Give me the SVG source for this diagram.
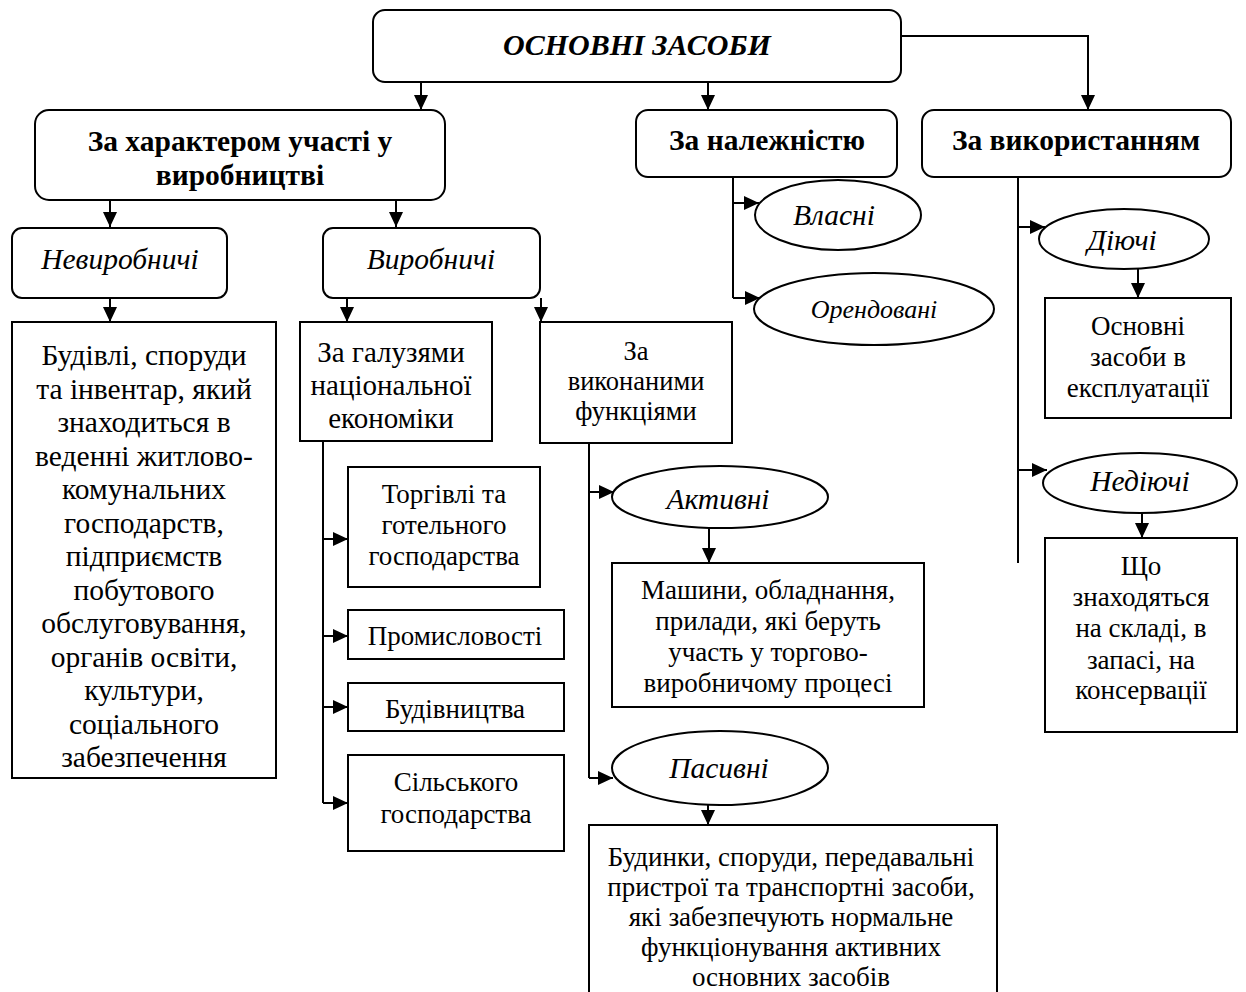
<svg xmlns="http://www.w3.org/2000/svg" width="1246" height="992" viewBox="0 0 1246 992">
<defs>
<marker id="ah" markerUnits="userSpaceOnUse" markerWidth="16" markerHeight="16" viewBox="0 0 16 16" refX="15" refY="8" orient="auto">
<path d="M0,1 L15,8 L0,15 Z" fill="#000"/>
</marker>
<style>
.b{fill:#fff;stroke:#000;stroke-width:2}
.c{fill:none;stroke:#000;stroke-width:2}
.a{marker-end:url(#ah)}
text{font-family:"Liberation Serif","Times New Roman",serif;fill:#000;text-anchor:middle;dominant-baseline:central}
.t{font-size:27px}
.tg{font-size:29px}
.tl{font-size:29.5px}
.s{font-size:26.5px}
.bd{font-weight:bold;font-size:29.5px}
.it{font-style:italic;font-size:29.5px}
.io{font-style:italic;font-size:26px}
.ti{font-style:italic;font-weight:bold;font-size:30px}
</style>
</defs>
<rect width="1246" height="992" fill="#fff"/>
<g id="connectors">
<path class="c a" d="M421,82 V110"/>
<path class="c a" d="M708,82 V110"/>
<path class="c a" d="M901,36 H1088 V110"/>
<path class="c a" d="M110,200 V227"/>
<path class="c a" d="M396,200 V227"/>
<path class="c a" d="M110,298 V322"/>
<path class="c a" d="M347,298 V322"/>
<path class="c a" d="M541,298 V322"/>
<path class="c" d="M323,441 V803"/>
<path class="c a" d="M323,539 H348"/>
<path class="c a" d="M323,636 H348"/>
<path class="c a" d="M323,707 H348"/>
<path class="c a" d="M323,803 H348"/>
<path class="c" d="M589,443 V778"/>
<path class="c a" d="M589,492 H614"/>
<path class="c a" d="M589,778 H613"/>
<path class="c a" d="M709,528 V563"/>
<path class="c a" d="M708,805 V825"/>
<path class="c" d="M733,177 V298"/>
<path class="c a" d="M733,203 H759"/>
<path class="c a" d="M733,298 H760"/>
<path class="c" d="M1018,177 V563"/>
<path class="c a" d="M1018,227 H1045"/>
<path class="c a" d="M1018,470 H1047"/>
<path class="c a" d="M1138,269 V298"/>
<path class="c a" d="M1142,513 V538"/>
</g>
<g id="n-root"><rect class="b" x="373" y="10" width="528" height="72" rx="12"/><text class="ti" x="637" y="44">ОСНОВНІ ЗАСОБИ</text></g>
<g id="n-uchast"><rect class="b" x="35" y="110" width="410" height="90" rx="14"/><text class="bd" x="240" y="141">За характером участі у</text><text class="bd" x="240" y="175">виробництві</text></g>
<g id="n-nalezh"><rect class="b" x="636" y="110" width="261" height="67" rx="12"/><text class="bd" x="767" y="140">За належністю</text></g>
<g id="n-vykor"><rect class="b" x="922" y="110" width="309" height="67" rx="12"/><text class="bd" x="1076" y="140">За використанням</text></g>
<g id="n-nevyr"><rect class="b" x="12" y="228" width="215" height="70" rx="10"/><text class="it" x="120" y="259">Невиробничі</text></g>
<g id="n-vyr"><rect class="b" x="323" y="228" width="217" height="70" rx="10"/><text class="it" x="431" y="259">Виробничі</text></g>
<g id="n-budivli"><rect class="b" x="12" y="322" width="264" height="456"/>
<text class="tl" x="144" y="355">Будівлі, споруди</text>
<text class="tl" x="144" y="388.5">та інвентар, який</text>
<text class="tl" x="144" y="422">знаходиться в</text>
<text class="tl" x="144" y="455.5">веденні житлово-</text>
<text class="tl" x="144" y="489">комунальних</text>
<text class="tl" x="144" y="522.5">господарств,</text>
<text class="tl" x="144" y="556">підприємств</text>
<text class="tl" x="144" y="589.5">побутового</text>
<text class="tl" x="144" y="623">обслуговування,</text>
<text class="tl" x="144" y="656.5">органів освіти,</text>
<text class="tl" x="144" y="690">культури,</text>
<text class="tl" x="144" y="723.5">соціального</text>
<text class="tl" x="144" y="757">забезпечення</text>
</g>
<g id="n-galuz"><rect class="b" x="300" y="322" width="192" height="119"/><text class="tg" x="391" y="352">За галузями</text><text class="tg" x="391" y="385">національної</text><text class="tg" x="391" y="418">економіки</text></g>
<g id="n-funk"><rect class="b" x="540" y="322" width="192" height="121"/><text class="s" x="636" y="351">За</text><text class="s" x="636" y="381">виконаними</text><text class="s" x="636" y="411">функціями</text></g>
<g id="n-torg"><rect class="b" x="348" y="467" width="192" height="120"/><text class="t" x="444" y="494">Торгівлі та</text><text class="t" x="444" y="525">готельного</text><text class="t" x="444" y="556">господарства</text></g>
<g id="n-prom"><rect class="b" x="348" y="610" width="216" height="49"/><text class="t" x="455" y="636">Промисловості</text></g>
<g id="n-budivn"><rect class="b" x="348" y="683" width="216" height="48"/><text class="t" x="455" y="709">Будівництва</text></g>
<g id="n-silsk"><rect class="b" x="348" y="755" width="216" height="96"/><text class="t" x="456" y="782">Сільського</text><text class="t" x="456" y="814">господарства</text></g>
<g id="n-aktyv"><ellipse class="b" cx="720" cy="497" rx="108" ry="31"/><text class="it" x="718" y="499">Активні</text></g>
<g id="n-mashyny"><rect class="b" x="612" y="563" width="312" height="144"/><text class="t" x="768" y="590">Машини, обладнання,</text><text class="t" x="768" y="621">прилади, які беруть</text><text class="t" x="768" y="652">участь у торгово-</text><text class="t" x="768" y="683">виробничому процесі</text></g>
<g id="n-pasyv"><ellipse class="b" cx="720" cy="768" rx="108" ry="37"/><text class="it" x="719" y="768">Пасивні</text></g>
<g id="n-budynky"><rect class="b" x="589" y="825" width="408" height="180"/><text class="t" x="791" y="857">Будинки, споруди, передавальні</text><text class="t" x="791" y="887">пристрої та транспортні засоби,</text><text class="t" x="791" y="917">які забезпечують нормальне</text><text class="t" x="791" y="947">функціонування активних</text><text class="t" x="791" y="977">основних засобів</text></g>
<g id="n-vlasni"><ellipse class="b" cx="838" cy="215" rx="83" ry="35"/><text class="it" x="834" y="215">Власні</text></g>
<g id="n-orend"><ellipse class="b" cx="874" cy="309" rx="120" ry="36"/><text class="io" x="874" y="309">Орендовані</text></g>
<g id="n-diyuchi"><ellipse class="b" cx="1124" cy="239" rx="85" ry="30"/><text class="it" x="1122" y="240">Діючі</text></g>
<g id="n-osnovni"><rect class="b" x="1045" y="298" width="186" height="120"/><text class="t" x="1138" y="326">Основні</text><text class="t" x="1138" y="357">засоби в</text><text class="t" x="1138" y="388">експлуатації</text></g>
<g id="n-nediyuchi"><ellipse class="b" cx="1140" cy="483" rx="97" ry="30"/><text class="it" x="1140" y="481">Недіючі</text></g>
<g id="n-shcho"><rect class="b" x="1045" y="538" width="192" height="194"/><text class="t" x="1141" y="566">Що</text><text class="t" x="1141" y="597">знаходяться</text><text class="t" x="1141" y="628">на складі, в</text><text class="t" x="1141" y="660">запасі, на</text><text class="t" x="1141" y="690">консервації</text></g>
</svg>
